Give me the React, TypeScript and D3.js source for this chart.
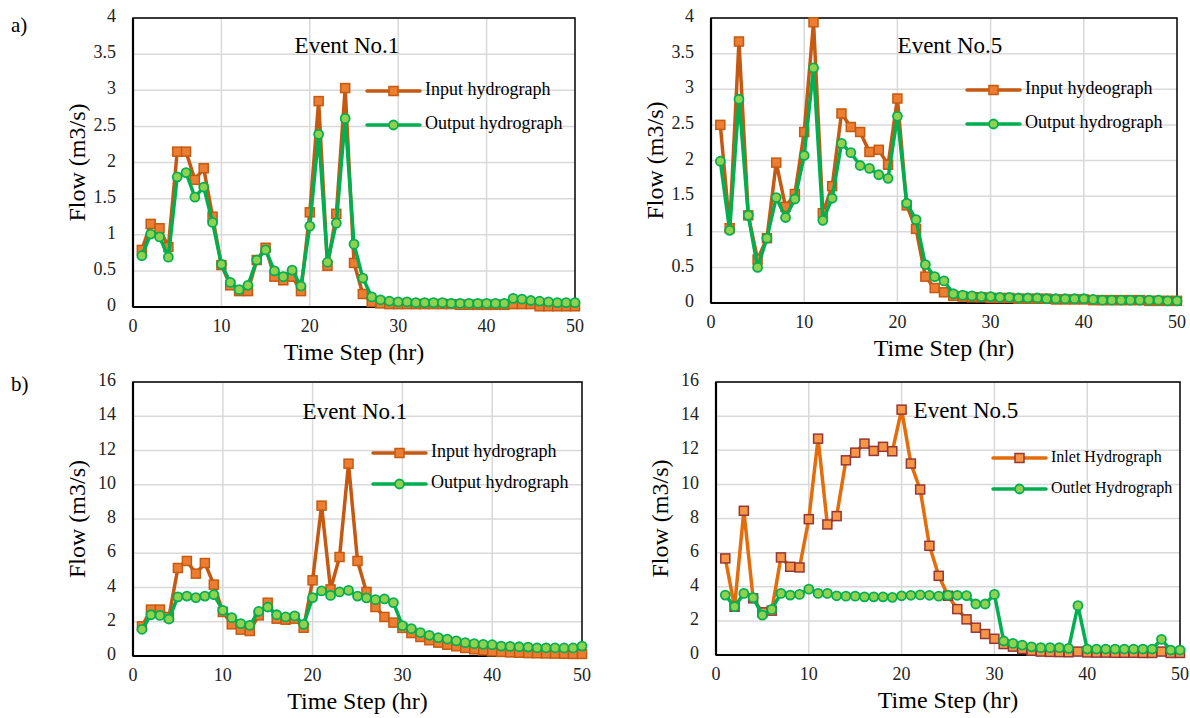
import * as d3 from "d3";

// time steps (hr)
const steps = d3.range(1, 51);

// a) Event No.1
const a1Input = [0.79, 1.15, 1.09, 0.83, 2.15, 2.15, 1.76, 1.92, 1.25, 0.58, 0.30, 0.22, 0.22, 0.65, 0.82, 0.42, 0.37, 0.42, 0.22, 1.31,
  2.85, 0.57, 1.29, 3.03, 0.61, 0.18, 0.07, 0.05, 0.04, 0.04, 0.04, 0.04, 0.04, 0.04, 0.04, 0.04, 0.03, 0.03, 0.03, 0.03,
  0.03, 0.03, 0.04, 0.04, 0.04, 0.01, 0.01, 0.01, 0.01, 0.01];
const a1Output = [0.71, 1.01, 0.97, 0.69, 1.80, 1.86, 1.52, 1.66, 1.17, 0.59, 0.34, 0.24, 0.30, 0.65, 0.79, 0.50, 0.42, 0.51, 0.29, 1.12,
  2.39, 0.62, 1.16, 2.61, 0.87, 0.40, 0.14, 0.10, 0.08, 0.07, 0.07, 0.06, 0.06, 0.06, 0.06, 0.05, 0.05, 0.05, 0.05, 0.05,
  0.05, 0.05, 0.12, 0.11, 0.09, 0.08, 0.07, 0.06, 0.06, 0.06];

// a) Event No.5
const a2Input = [2.50, 1.05, 3.67, 1.23, 0.61, 0.91, 1.97, 1.35, 1.53, 2.40, 3.94, 1.26, 1.64, 2.66, 2.47, 2.40, 2.12, 2.15, 1.94, 2.87,
  1.37, 1.04, 0.37, 0.21, 0.15, 0.10, 0.09, 0.08, 0.08, 0.07, 0.07, 0.07, 0.06, 0.06, 0.06, 0.06, 0.05, 0.05, 0.05, 0.05,
  0.04, 0.04, 0.04, 0.04, 0.04, 0.04, 0.03, 0.03, 0.03, 0.03];
const a2Output = [1.99, 1.02, 2.86, 1.23, 0.50, 0.91, 1.48, 1.20, 1.46, 2.07, 3.30, 1.16, 1.47, 2.24, 2.11, 1.93, 1.89, 1.80, 1.75, 2.62,
  1.40, 1.17, 0.54, 0.37, 0.31, 0.13, 0.11, 0.10, 0.09, 0.09, 0.08, 0.08, 0.07, 0.07, 0.07, 0.06, 0.06, 0.06, 0.06, 0.06,
  0.05, 0.04, 0.04, 0.04, 0.04, 0.04, 0.04, 0.04, 0.03, 0.03];

// b) Event No.1
const b1Input = [1.73, 2.71, 2.71, 2.28, 5.14, 5.55, 4.81, 5.43, 4.17, 2.57, 1.85, 1.54, 1.46, 2.37, 3.11, 2.18, 2.12, 2.18, 1.65, 4.42,
  8.78, 3.89, 5.78, 11.23, 5.55, 3.74, 2.86, 2.28, 1.95, 1.64, 1.34, 1.11, 0.92, 0.78, 0.66, 0.57, 0.47, 0.39, 0.33, 0.27,
  0.24, 0.21, 0.19, 0.17, 0.16, 0.15, 0.14, 0.13, 0.12, 0.12];
const b1Output = [1.56, 2.41, 2.37, 2.16, 3.45, 3.50, 3.41, 3.50, 3.58, 2.67, 2.24, 1.89, 1.79, 2.61, 2.86, 2.41, 2.28, 2.34, 1.85, 3.41,
  3.80, 3.54, 3.74, 3.83, 3.50, 3.39, 3.29, 3.33, 3.12, 1.77, 1.60, 1.37, 1.21, 1.07, 0.99, 0.88, 0.78, 0.72, 0.68, 0.66,
  0.58, 0.56, 0.54, 0.52, 0.48, 0.48, 0.48, 0.47, 0.47, 0.58];

// b) Event No.5
const b2Inlet = [5.66, 2.83, 8.45, 3.32, 2.50, 2.60, 5.72, 5.17, 5.13, 7.96, 12.68, 7.65, 8.14, 11.41, 11.86, 12.39, 11.96, 12.20, 11.94, 14.38,
  11.22, 9.70, 6.40, 4.64, 3.47, 2.69, 2.09, 1.60, 1.23, 0.95, 0.64, 0.49, 0.35, 0.25, 0.20, 0.18, 0.17, 0.16, 0.20, 0.15,
  0.14, 0.14, 0.13, 0.13, 0.13, 0.12, 0.12, 0.20, 0.12, 0.12];
const b2Outlet = [3.51, 2.83, 3.61, 3.36, 2.34, 2.67, 3.61, 3.51, 3.55, 3.86, 3.61, 3.61, 3.47, 3.45, 3.45, 3.41, 3.41, 3.41, 3.38, 3.47,
  3.50, 3.52, 3.50, 3.45, 3.50, 3.50, 3.48, 2.99, 2.99, 3.55, 0.82, 0.68, 0.58, 0.48, 0.43, 0.43, 0.43, 0.39, 2.89, 0.35,
  0.35, 0.35, 0.35, 0.35, 0.35, 0.35, 0.35, 0.92, 0.29, 0.29];

const xTicks = [0, 10, 20, 30, 40, 50];
const yTicksA = [0, 0.5, 1, 1.5, 2, 2.5, 3, 3.5, 4];
const yTicksB = [0, 2, 4, 6, 8, 10, 12, 14, 16];

const FONT = "'Liberation Serif', 'Times New Roman', serif";

const orangeA = { line: "#C65911", fill: "#ED7D31", stroke: "#C55A11", shape: "square" };
const orangeB = { line: "#E46C0A", fill: "#F79646", stroke: "#953735", shape: "square" };
const green = { line: "#00B050", fill: "#92D050", stroke: "#00B050", shape: "circle" };

const panels = [
  {
    tag: "a)", tagY: 27, title: "Event No.1", titleX: 347, titleY: 53,
    left: 133, right: 575, top: 18, bottom: 307, yMax: 4, yTicks: yTicksA,
    legendX: 367, legendY: 91, legendGap: 34, legendFont: 18,
    series: [
      { name: "Input hydrograph", values: a1Input, style: orangeA },
      { name: "Output hydrograph", values: a1Output, style: green },
    ],
  },
  {
    title: "Event No.5", titleX: 950, titleY: 53,
    left: 711, right: 1177, top: 18, bottom: 303, yMax: 4, yTicks: yTicksA,
    legendX: 967, legendY: 90, legendGap: 34, legendFont: 18,
    series: [
      { name: "Input hydeograph", values: a2Input, style: orangeA },
      { name: "Output hydrograph", values: a2Output, style: green },
    ],
  },
  {
    tag: "b)", tagY: 386, title: "Event No.1", titleX: 355, titleY: 419,
    left: 133, right: 582, top: 382, bottom: 656, yMax: 16, yTicks: yTicksB,
    legendX: 373, legendY: 453, legendGap: 31, legendFont: 18,
    series: [
      { name: "Input hydrograph", values: b1Input, style: orangeA },
      { name: "Output hydrograph", values: b1Output, style: green },
    ],
  },
  {
    title: "Event No.5", titleX: 966, titleY: 418,
    left: 716, right: 1180, top: 382, bottom: 655, yMax: 16, yTicks: yTicksB,
    legendX: 993, legendY: 458, legendGap: 31, legendFont: 16,
    series: [
      { name: "Inlet Hydrograph", values: b2Inlet, style: orangeB },
      { name: "Outlet Hydrograph", values: b2Outlet, style: green },
    ],
  },
];

function Marker({ x, y, style }) {
  if (style.shape === "square") {
    return <rect x={x - 4.5} y={y - 4.5} width={9} height={9} fill={style.fill} stroke={style.stroke} strokeWidth={1.5} />;
  }
  return <circle cx={x} cy={y} r={4.5} fill={style.fill} stroke={style.stroke} strokeWidth={1.8} />;
}

function Panel({ p }) {
  const x = d3.scaleLinear().domain([0, 50]).range([p.left, p.right]);
  const y = d3.scaleLinear().domain([0, p.yMax]).range([p.bottom, p.top]);
  const line = d3.line().x((d, i) => x(steps[i])).y((d) => y(d));
  const midY = (p.top + p.bottom) / 2;
  const midX = (p.left + p.right) / 2;

  return (
    <g fontFamily={FONT} fill="#000">
      {p.tag && <text x={11} y={p.tagY} fontSize={21} dominantBaseline="middle">{p.tag}</text>}
      {/* grid */}
      {p.yTicks.slice(1).map((t) => (
        <line key={"gy" + t} x1={p.left} x2={p.right} y1={y(t)} y2={y(t)} stroke="#D9D9D9" strokeWidth={1.5} />
      ))}
      {xTicks.slice(1, -1).map((t) => (
        <line key={"gx" + t} x1={x(t)} x2={x(t)} y1={p.top} y2={p.bottom} stroke="#D9D9D9" strokeWidth={1.5} />
      ))}
      {/* frame */}
      <rect x={p.left} y={p.top} width={p.right - p.left} height={p.bottom - p.top} fill="none" stroke="#000" strokeWidth={1.5} />
      <line x1={p.left} x2={p.right} y1={p.bottom} y2={p.bottom} stroke="#000" strokeWidth={2.2} />
      <line x1={p.left} x2={p.left} y1={p.top} y2={p.bottom} stroke="#000" strokeWidth={2.2} />
      {/* tick labels */}
      {p.yTicks.map((t) => (
        <text key={"ty" + t} x={p.left - 17} y={y(t)} fontSize={18} fill="#222" textAnchor="end" dominantBaseline="middle">{String(t)}</text>
      ))}
      {xTicks.map((t) => (
        <text key={"tx" + t} x={x(t)} y={p.bottom + 21} fontSize={18} fill="#222" textAnchor="middle" dominantBaseline="middle">{String(t)}</text>
      ))}
      {/* axis titles */}
      <text x={midX} y={p.bottom + 47} fontSize={24} textAnchor="middle" dominantBaseline="middle">Time Step (hr)</text>
      <text transform={`translate(${p.left - 54},${midY}) rotate(-90)`} fontSize={24} textAnchor="middle" dominantBaseline="middle">Flow (m3/s)</text>
      <text x={p.titleX} y={p.titleY} fontSize={23} textAnchor="middle">{p.title}</text>
      {/* series */}
      {p.series.map((s) => (
        <g key={s.name}>
          <path d={line(s.values)} fill="none" stroke={s.style.line} strokeWidth={3.5} strokeLinejoin="round" />
          {s.values.map((v, i) => (
            <Marker key={i} x={x(steps[i])} y={y(v)} style={s.style} />
          ))}
        </g>
      ))}
      {/* legend */}
      {p.series.map((s, k) => {
        const ly = p.legendY + k * p.legendGap;
        return (
          <g key={"lg" + s.name}>
            <line x1={p.legendX} x2={p.legendX + 53} y1={ly} y2={ly} stroke={s.style.line} strokeWidth={3.5} strokeLinecap="round" />
            <Marker x={p.legendX + 26.5} y={ly} style={s.style} />
            <text x={p.legendX + 58} y={ly} fontSize={p.legendFont} dominantBaseline="middle">{s.name}</text>
          </g>
        );
      })}
    </g>
  );
}

export default function App() {
  return (
    <div style={{ position: "absolute", left: 0, top: 0 }}>
      <svg width={1190} height={718} style={{ display: "block", background: "#fff" }}>
        {panels.map((p, i) => (
          <Panel key={i} p={p} />
        ))}
      </svg>
    </div>
  );
}
